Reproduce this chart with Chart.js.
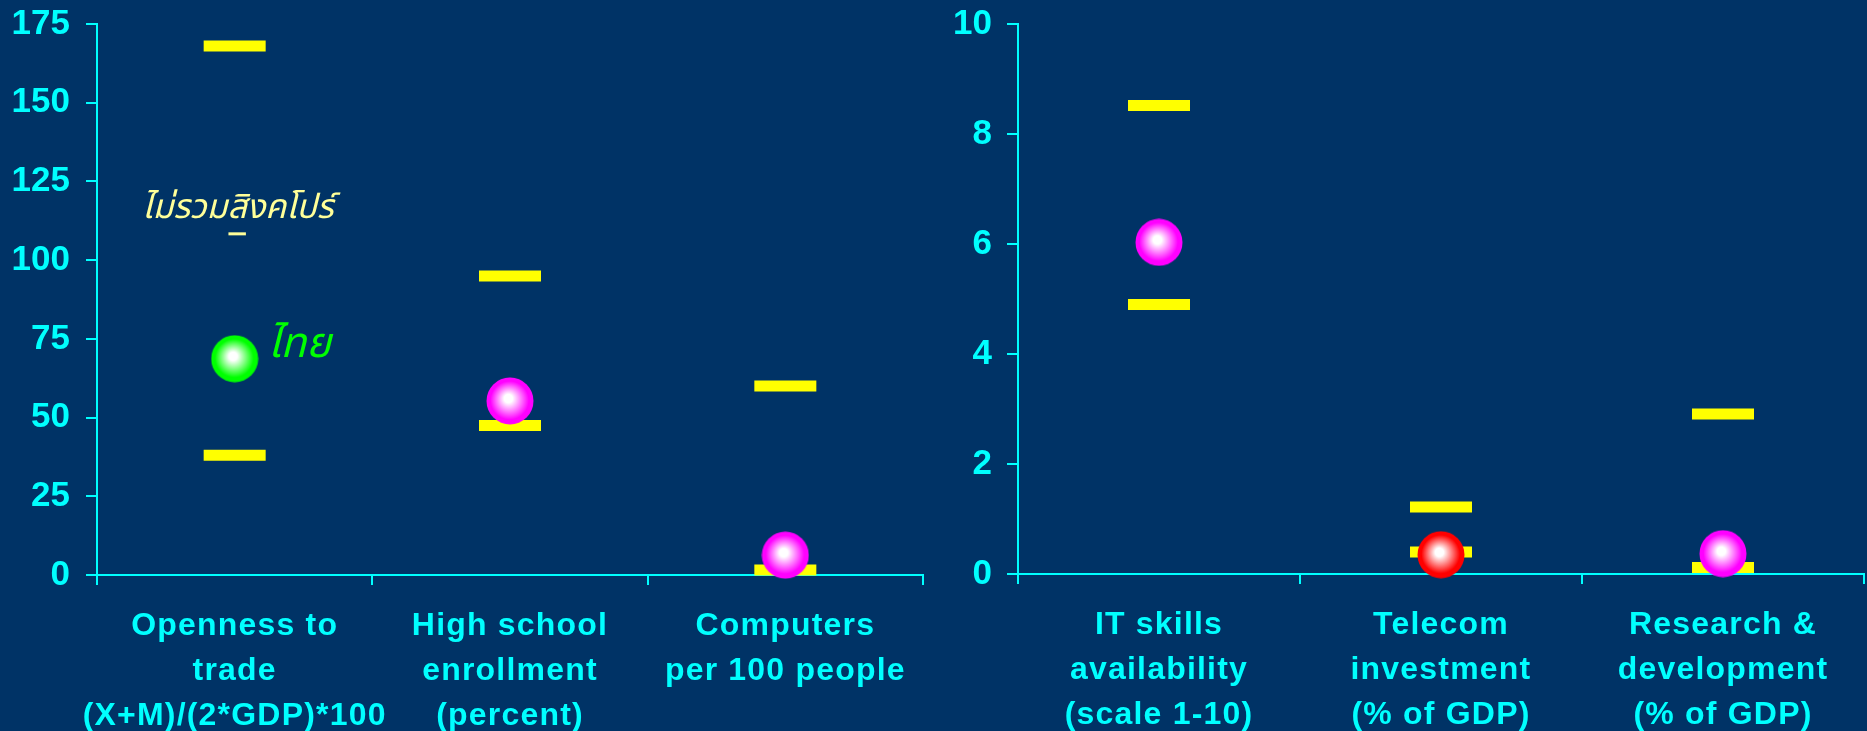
<!DOCTYPE html>
<html><head><meta charset="utf-8">
<script src="https://cdn.jsdelivr.net/npm/chart.js@4/dist/chart.umd.min.js"></script>
<style>
html,body{margin:0;padding:0;background:#003366;width:1867px;height:731px;overflow:hidden}
#c1{position:absolute;left:0;top:0}
#c2{position:absolute;left:940px;top:0}
</style></head><body>
<canvas id="c1" width="940" height="731"></canvas>
<canvas id="c2" width="927" height="731"></canvas>
<script>
// ---- data ----
const leftCategories = [["Openness to","trade","(X+M)/(2*GDP)*100"],["High school","enrollment","(percent)"],["Computers","per 100 people"]];
const leftUpper = [168, 95, 60];
const leftLower = [38, 47.5, 1.6];
const leftThailand = [68.7, 55.3, 6.3];
const leftBallColors = ["#00ff00", "#ff00ff", "#ff00ff"];
const leftTicks = [0, 25, 50, 75, 100, 125, 150, 175];

const rightCategories = [["IT skills","availability","(scale 1-10)"],["Telecom","investment","(% of GDP)"],["Research &","development","(% of GDP)"]];
const rightUpper = [8.52, 1.22, 2.91];
const rightLower = [4.90, 0.40, 0.12];
const rightThailand = [6.03, 0.35, 0.37];
const rightBallColors = ["#ff00ff", "#ff0000", "#ff00ff"];
const rightTicks = [0, 2, 4, 6, 8, 10];

const noteExclSingapore = ["ไม่รวม", "สิ", "งคโปร์"]; // middle part underlined
const noteExclValue = 115.5;
const noteThai = "ไทย";
const noteThaiValue = 71.8;

// ---- styling ----
const CYAN = "#00ffff";
const FONT = "'Liberation Sans', Arial, sans-serif";
const THAI_FONT = "'Noto Sans Thai', 'Noto Sans', 'DejaVu Sans', sans-serif";

function ballImage(color) {
  const c = document.createElement('canvas');
  c.width = 48; c.height = 48;
  const g = c.getContext('2d');
  const grad = g.createRadialGradient(22, 21, 0, 24, 24, 23.5);
  grad.addColorStop(0, '#ffffff');
  grad.addColorStop(0.18, '#ffffff');
  grad.addColorStop(0.82, color);
  grad.addColorStop(1, color);
  g.fillStyle = grad;
  g.beginPath();
  g.arc(24, 24, 23.5, 0, Math.PI * 2);
  g.fill();
  return c;
}

function patchLabels(s, spacing) {
  if (s._spaced) return;
  const orig = s.drawLabels.bind(s);
  s.drawLabels = function (ca) {
    const ctx = this.ctx;
    ctx.save();
    ctx.letterSpacing = spacing;
    orig(ca);
    ctx.restore();
  };
  s._spaced = true;
}

function makeChart(canvasId, cats, upper, lower, thai, ballColors, ticks, dims, extraPlugins) {
  const yMin = ticks[0], yMax = ticks[ticks.length - 1];
  const step = ticks[1] - ticks[0];
  const marker = {
    showLine: false, pointStyle: 'line', pointRadius: 31, pointHoverRadius: 31,
    pointBorderWidth: 11, pointHoverBorderWidth: 11,
    borderColor: '#ffff00', backgroundColor: '#ffff00', clip: false, order: 2
  };
  return new Chart(document.getElementById(canvasId), {
    type: 'line',
    data: {
      labels: cats,
      datasets: [
        Object.assign({ label: 'upper', data: upper }, marker),
        Object.assign({ label: 'lower', data: lower }, marker),
        {
          label: 'Thailand', data: thai, showLine: false,
          pointStyle: ballColors.map(ballImage), pointRadius: 23.5, pointHoverRadius: 23.5,
          borderColor: 'rgba(0,0,0,0)', backgroundColor: 'rgba(0,0,0,0)', clip: false, order: 1
        }
      ]
    },
    options: {
      responsive: false, animation: false,
      events: [],
      layout: { autoPadding: false, padding: { top: dims.top, right: dims.right, left: 0, bottom: 0 } },
      plugins: { legend: { display: false }, tooltip: { enabled: false } },
      scales: {
        x: {
          type: 'category', offset: true,
          grid: { offset: true, drawOnChartArea: false, color: CYAN, lineWidth: 2, tickLength: 10 },
          border: { color: CYAN, width: 2 },
          ticks: {
            color: CYAN, autoSkip: false, maxRotation: 0, minRotation: 0, padding: 19,
            font: { family: FONT, weight: 'bold', size: 32, lineHeight: 1.4 }
          },
          afterFit: s => {
            s.height = dims.xHeight;
            s.paddingLeft = 0; s.paddingRight = 0; s.paddingTop = 0; s.paddingBottom = 0;
            patchLabels(s, '1.2px');
          }
        },
        y: {
          min: yMin, max: yMax,
          grid: { drawOnChartArea: false, color: CYAN, lineWidth: 2, tickLength: 11 },
          border: { color: CYAN, width: 2 },
          ticks: {
            stepSize: step, color: CYAN, padding: dims.yPad,
            font: { family: FONT, weight: 'bold', size: 35 }
          },
          afterFit: s => {
            s.width = dims.yWidth;
            s.paddingLeft = 0; s.paddingRight = 0; s.paddingTop = 0; s.paddingBottom = 0;
          }
        }
      }
    },
    plugins: extraPlugins || []
  });
}

const notesPlugin = {
  id: 'notes',
  afterDatasetsDraw(chart) {
    const ctx = chart.ctx;
    const xs = chart.scales.x, ys = chart.scales.y;
    const cx = xs.getPixelForValue(0);
    ctx.save();
    // "excluding Singapore" note
    ctx.font = "italic 34px " + THAI_FONT;
    ctx.fillStyle = '#ffff99';
    ctx.textBaseline = 'middle';
    ctx.textAlign = 'left';
    const widths = noteExclSingapore.map(t => ctx.measureText(t).width);
    const total = widths.reduce((a, b) => a + b, 0);
    let x = cx + 3 - total / 2;
    const y = ys.getPixelForValue(noteExclValue);
    noteExclSingapore.forEach((t, i) => {
      ctx.fillText(t, x, y);
      if (i === 1) ctx.fillRect(x + 1, y + 21, widths[i] - 2, 3);
      x += widths[i];
    });
    // Thailand label
    ctx.font = "italic 42px " + THAI_FONT;
    ctx.fillStyle = '#00ff00';
    ctx.fillText(noteThai, cx + 33, ys.getPixelForValue(noteThaiValue));
    ctx.restore();
  }
};

makeChart('c1', leftCategories, leftUpper, leftLower, leftThailand, leftBallColors, leftTicks,
  { top: 24, right: 17, xHeight: 156, yWidth: 97, yPad: 16 }, [notesPlugin]);
makeChart('c2', rightCategories, rightUpper, rightLower, rightThailand, rightBallColors, rightTicks,
  { top: 24, right: 3, xHeight: 157, yWidth: 78, yPad: 15 });
</script>
</body></html>
